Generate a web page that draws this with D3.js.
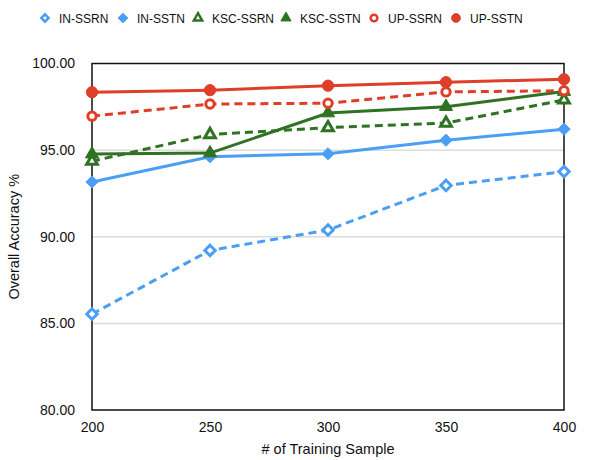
<!DOCTYPE html>
<html>
<head>
<meta charset="utf-8">
<script src="https://cdn.jsdelivr.net/npm/d3@7"></script>
<style>
  html, body { margin: 0; padding: 0; background: #fff; }
  svg { display: block; font-family: "Liberation Sans", Arial, Helvetica, sans-serif; }
</style>
</head>
<body>
<svg id="chart" width="608" height="460"></svg>
<script>
// Training sample sizes (x axis)
const samples = [200, 250, 300, 350, 400];
const yTicks = [80, 85, 90, 95, 100];

// Overall accuracy (%) per method/dataset
const inSSRN  = [85.54, 89.21, 90.39, 92.96, 93.76];
const inSSTN  = [93.16, 94.62, 94.79, 95.57, 96.21];
const kscSSRN = [94.36, 95.90, 96.30, 96.56, 97.90];
const kscSSTN = [94.77, 94.83, 97.14, 97.51, 98.38];
const upSSRN  = [96.96, 97.66, 97.71, 98.36, 98.43];
const upSSTN  = [98.34, 98.46, 98.72, 98.92, 99.09];

const seriesNames = ["IN-SSRN", "IN-SSTN", "KSC-SSRN", "KSC-SSTN", "UP-SSRN", "UP-SSTN"];
const seriesValues = [inSSRN, inSSTN, kscSSRN, kscSSTN, upSSRN, upSSTN];

const BLUE = "#4a9ff5", GREEN = "#2e7222", RED = "#df3f28";
const styles = [
  { color: BLUE,  dashed: true,  shape: "diamond",  filled: false },
  { color: BLUE,  dashed: false, shape: "diamond",  filled: true },
  { color: GREEN, dashed: true,  shape: "triangle", filled: false },
  { color: GREEN, dashed: false, shape: "triangle", filled: true },
  { color: RED,   dashed: true,  shape: "circle",   filled: false },
  { color: RED,   dashed: false, shape: "circle",   filled: true }
];

const svg = d3.select("#chart");
const margin = { left: 92, right: 44, top: 63.5, bottom: 50 };
const W = 608, H = 460;

const x = d3.scaleLinear().domain([200, 400]).range([margin.left, W - margin.right]);
const y = d3.scaleLinear().domain([80, 100]).range([H - margin.bottom, margin.top]);

// Horizontal gridlines
svg.append("g")
  .selectAll("line")
  .data(yTicks.filter(v => v > 80 && v < 100))
  .join("line")
  .attr("x1", x(200)).attr("x2", x(400))
  .attr("y1", d => y(d)).attr("y2", d => y(d))
  .attr("stroke", "#dcdcdc").attr("stroke-width", 1.5);

// Plot frame
svg.append("rect")
  .attr("x", x(200)).attr("y", y(100))
  .attr("width", x(400) - x(200)).attr("height", y(80) - y(100))
  .attr("fill", "none").attr("stroke", "#111").attr("stroke-width", 1.5);

// Y axis labels
const yAxis = d3.axisLeft(y).tickValues(yTicks).tickFormat(d3.format(".2f")).tickSize(0).tickPadding(17);
const gy = svg.append("g").attr("transform", `translate(${x(200)},0)`).call(yAxis);
gy.select(".domain").remove();
gy.selectAll("text").attr("font-size", 14).attr("fill", "#111")
  .attr("font-family", "'Liberation Sans', Arial, sans-serif");

// X axis labels
const xAxis = d3.axisBottom(x).tickValues(samples).tickSize(0).tickPadding(12);
const gx = svg.append("g").attr("transform", `translate(0,${y(80)})`).call(xAxis);
gx.select(".domain").remove();
gx.selectAll("text").attr("font-size", 14).attr("fill", "#111")
  .attr("font-family", "'Liberation Sans', Arial, sans-serif");

// Axis titles
svg.append("text")
  .attr("x", (x(200) + x(400)) / 2).attr("y", 454)
  .attr("text-anchor", "middle").attr("font-size", 14.5).attr("fill", "#111")
  .text("# of Training Sample");
svg.append("text")
  .attr("transform", `translate(19,${(y(80) + y(100)) / 2}) rotate(-90)`)
  .attr("text-anchor", "middle").attr("font-size", 14.5).attr("fill", "#111")
  .text("Overall Accuracy %");

// Marker symbol lookup
const symbolType = { diamond: d3.symbolDiamond2, triangle: d3.symbolTriangle, circle: d3.symbolCircle };
function markerPath(st) {
  let size;
  if (st.shape === "diamond") size = st.filled ? 95 : 70;
  else if (st.shape === "triangle") size = st.filled ? 75 : 50;
  else size = st.filled ? 100 : 55;
  return d3.symbol().type(symbolType[st.shape]).size(size)();
}

const line = d3.line().x((d, i) => x(samples[i])).y(d => y(d));

const gSeries = svg.append("g");
seriesValues.forEach((vals, k) => {
  const st = styles[k];
  const g = gSeries.append("g");
  g.append("path")
    .datum(vals)
    .attr("d", line)
    .attr("fill", "none")
    .attr("stroke", st.color)
    .attr("stroke-width", 3)
    .attr("stroke-dasharray", st.dashed ? "8,5" : null);
  g.selectAll("path.m")
    .data(vals)
    .join("path")
    .attr("class", "m")
    .attr("transform", (d, i) => `translate(${x(samples[i])},${y(d)})`)
    .attr("d", markerPath(st))
    .attr("fill", st.filled ? st.color : "#fff")
    .attr("stroke", st.color)
    .attr("stroke-width", st.filled ? 1 : 3);
});

// Legend
const legendX = [45, 123, 198, 286, 374, 456];
const legend = svg.append("g").attr("transform", "translate(0,18)");
seriesNames.forEach((name, k) => {
  const st = styles[k];
  const g = legend.append("g").attr("transform", `translate(${legendX[k]},0)`);
  const size = st.shape === "triangle" ? (st.filled ? 45 : 30) : (st.filled ? 60 : 35);
  g.append("path")
    .attr("d", d3.symbol().type(symbolType[st.shape]).size(size)())
    .attr("fill", st.filled ? st.color : "#fff")
    .attr("stroke", st.color)
    .attr("stroke-width", st.filled ? 1 : 2.5);
  g.append("text")
    .attr("x", 14).attr("y", 4.5)
    .attr("font-size", 12).attr("fill", "#111")
    .text(name);
});
</script>
</body>
</html>
